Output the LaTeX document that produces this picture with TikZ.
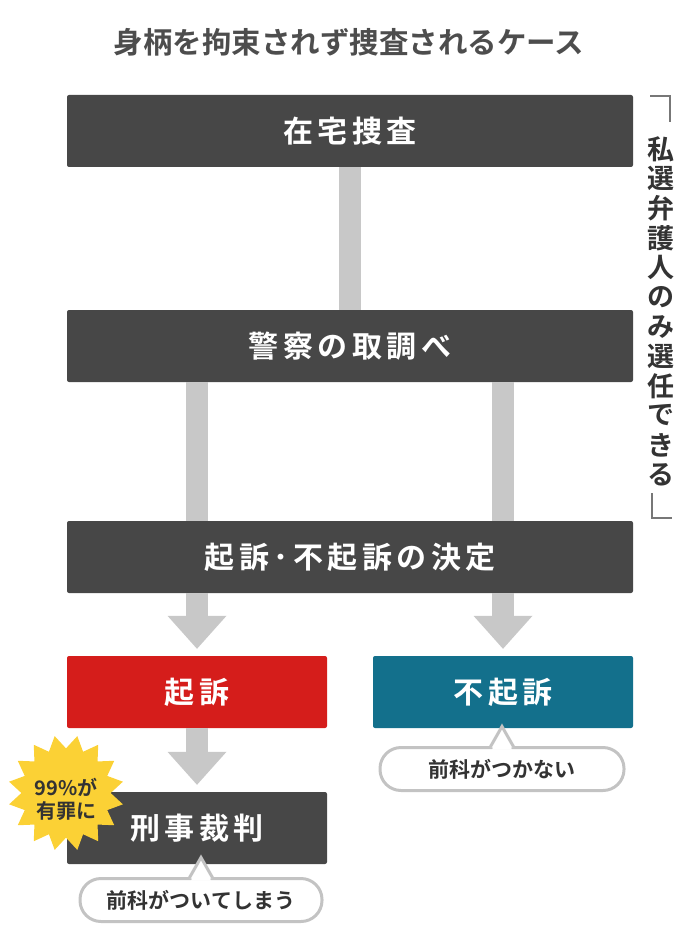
\documentclass[tikz,border=0pt]{standalone}
\usepackage{fontspec}
\usetikzlibrary{arrows.meta,shapes.geometric}
\newfontfamily\jp{Noto Sans CJK JP}[UprightFont=* Bold]
\newfontfamily\jpwide{Noto Sans CJK JP}[UprightFont=* Bold, LetterSpace=15]

\definecolor{boxgray}{HTML}{474747}
\definecolor{bargray}{HTML}{C8C8C8}
\definecolor{kisored}{HTML}{D51D1B}
\definecolor{fukisoblue}{HTML}{13708C}
\definecolor{bubblegray}{HTML}{C3C3C3}
\definecolor{textdark}{HTML}{333333}
\definecolor{titlegray}{HTML}{4D4D4D}
\definecolor{burstyellow}{HTML}{FBD135}
\definecolor{bracketgray}{HTML}{777777}

\begin{document}
\begin{tikzpicture}[x=1pt, y=-1pt,
    box/.style={rectangle, rounded corners=2pt, fill=boxgray, text=white, inner sep=0pt,
        minimum width=566pt, minimum height=72pt, font=\jpwide\fontsize{30}{30}\selectfont},
    halfbox/.style={box, minimum width=260pt},
    bubble/.style={rectangle, rounded corners=21pt, draw=bubblegray, line width=3pt, fill=white,
        text=textdark, inner sep=0pt, outer sep=0pt, minimum height=43pt,
        font=\jp\fontsize{21}{21}\selectfont},
    pointer/.style={draw=bubblegray, line width=3pt, fill=white, line join=miter},
    bar/.style={draw=bargray, line width=22pt},
    bararrow/.style={bar, -{Triangle[width=59pt, length=33pt, line width=0pt]}, shorten >=7pt},
    vtext/.style={text=textdark, inner sep=0pt, font=\jp\fontsize{27}{27}\selectfont},
]

    \useasboundingbox (0, 0) rectangle (700, 944);

    \node[text=titlegray, font=\jp\fontsize{29.5}{29.5}\selectfont] (title) at (349, 42) {身柄を拘束されず捜査されるケース};

    \node[box] (zaitaku) at (350, 131) {在宅捜査};
    \node[box] (chosa) at (350, 346) {警察の取調べ};
    \node[box] (kettei) at (350, 557) {起訴･不起訴の決定};
    \node[halfbox, fill=kisored] (kiso) at (197, 692) {起訴};
    \node[halfbox, fill=fukisoblue] (fukiso) at (503, 692) {不起訴};
    \node[halfbox] (saiban) at (197, 828) {刑事裁判};

    \draw[bar] (zaitaku.south) -- (chosa.north);
    \draw[bar] (chosa.south -| kiso.north) -- (kettei.north -| kiso.north);
    \draw[bar] (chosa.south -| fukiso.north) -- (kettei.north -| fukiso.north);
    \draw[bararrow] (kettei.south -| kiso.north) -- (kiso.north);
    \draw[bararrow] (kettei.south -| fukiso.north) -- (fukiso.north);
    \draw[bararrow] (kiso.south) -- (saiban.north);

    \node[bubble, minimum width=244pt] (zenkaNashi) at (502, 769) {前科がつかない};
    \filldraw[pointer] ([xshift=-12pt]zenkaNashi.north) -- ([yshift=21pt]zenkaNashi.north) -- ([xshift=12pt]zenkaNashi.north);
    \fill[white] ([xshift=-10pt, yshift=-2pt]zenkaNashi.north) -- ([yshift=17pt]zenkaNashi.north) -- ([xshift=10pt, yshift=-2pt]zenkaNashi.north) -- cycle;

    \node[bubble, minimum width=242pt] (zenkaAri) at (201, 900) {前科がついてしまう};
    \filldraw[pointer] ([xshift=-12pt]zenkaAri.north) -- ([yshift=21pt]zenkaAri.north) -- ([xshift=12pt]zenkaAri.north);
    \fill[white] ([xshift=-10pt, yshift=-2pt]zenkaAri.north) -- ([yshift=17pt]zenkaAri.north) -- ([xshift=10pt, yshift=-2pt]zenkaAri.north) -- cycle;

    \node[star, star points=16, star point ratio=1.3, minimum size=116pt, inner sep=0pt,
        fill=burstyellow, shape border rotate=11.25] (burst) at (66, 793) {};
    \node[text=textdark, align=center, inner sep=0pt, font=\jp\fontsize{20}{23}\selectfont] (burstText) at (66, 799) {99\%が\\有罪に};

    \coordinate (bracketTop) at (670, 96);
    \coordinate (bracketBottom) at (652, 518);
    \draw[bracketgray, line width=2.5pt] ([xshift=-20pt]bracketTop) -- (bracketTop) -- ([yshift=-26pt]bracketTop);
    \draw[bracketgray, line width=2.5pt] ([yshift=25pt]bracketBottom) -- (bracketBottom) -- ([xshift=20pt]bracketBottom);

    \foreach \c [count=\i] in {私,選,弁,護,人,の,み,選,任,で,き,る}
        \node[vtext] (vert\i) at (661, 149 + 29.6*\i - 29.6) {\c};

\end{tikzpicture}
\end{document}
